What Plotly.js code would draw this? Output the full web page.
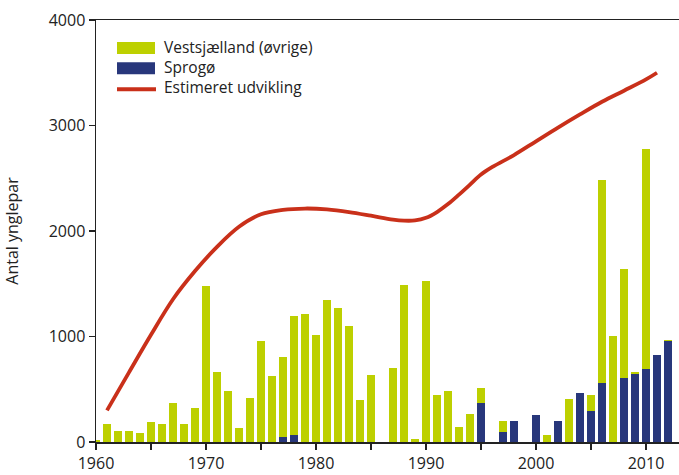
<!DOCTYPE html>
<html>
<head>
<meta charset="utf-8">
<script src="https://cdn.plot.ly/plotly-3.0.1.min.js"></script>
<style>html,body{margin:0;padding:0;background:#fff;}#chart{width:679px;height:475px;}</style>
</head>
<body>
<div id="chart"></div>
<script>
const years = [];
for (let y = 1960; y <= 2012; y++) years.push(y);

const vestsjaelland = [
  20, 174, 107, 107, 88, 192, 174, 372, 174, 325,
  1481, 666, 486, 135, 420, 960, 628, 758, 1128, 1216,
  1017, 1349, 1273, 1102, 401, 638, 0, 704, 1491, 31,
  1529, 448, 486, 145, 268, 142, 0, 104, 0, 0,
  0, 69, 0, 410, 0, 151, 1924, 1008, 1033, 19,
  2085, 0, 10
];

const sprogoe = [
  0, 0, 0, 0, 0, 0, 0, 0, 0, 0,
  0, 0, 0, 0, 0, 0, 0, 50, 69, 0,
  0, 0, 0, 0, 0, 0, 0, 0, 0, 0,
  0, 0, 0, 0, 0, 373, 0, 98, 202, 0,
  259, 0, 202, 0, 467, 297, 562, 0, 610, 647,
  695, 827, 960
];

const trendYears = [1961, 1963, 1965, 1967, 1969, 1971, 1973, 1975, 1977, 1979,
  1981, 1983, 1985, 1987, 1988, 1989, 1990, 1991, 1992, 1993, 1994, 1995, 1996,
  1998, 2000, 2002, 2004, 2006, 2008, 2010, 2011];
const trendValues = [300, 660, 1016, 1353, 1620, 1850, 2040, 2158, 2200, 2213,
  2205, 2180, 2145, 2108, 2098, 2100, 2125, 2180, 2255, 2345, 2440, 2535, 2605,
  2720, 2850, 2980, 3105, 3225, 3330, 3437, 3500];

const names = ['Vestsjælland (øvrige)', 'Sprogø', 'Estimeret udvikling'];
const colors = {vest: '#bdd000', sprogoe: '#28377b', trend: '#c9301a'};

const traces = [
  {type: 'bar', x: years, y: sprogoe, name: names[1], marker: {color: colors.sprogoe}},
  {type: 'bar', x: years, y: vestsjaelland, name: names[0], marker: {color: colors.vest}},
  {type: 'scatter', mode: 'lines', x: trendYears, y: trendValues, name: names[2],
   line: {color: colors.trend, width: 3.8, shape: 'spline', smoothing: 1}}
];

// Hand-built legend (paper placement) to match the reference layout
const W = 679, H = 475, mL = 96, mR = 0, mT = 20, mB = 33;
const pw = W - mL - mR, ph = H - mT - mB;
const px = x => (x - mL) / pw;
const py = y => 1 - (y - mT) / ph;
const legendFont = 15.5;
const rowGap = legendFont * 1.3;
const firstRow = 48;
const kinds = ['box', 'box', 'line'];
const swatchColors = [colors.vest, colors.sprogoe, colors.trend];
const shapes = [];
kinds.forEach((k, i) => {
  const cy = firstRow + i * rowGap;
  if (k === 'box') {
    shapes.push({type: 'rect', xref: 'paper', yref: 'paper',
      x0: px(117), x1: px(155), y0: py(cy + 6), y1: py(cy - 6),
      fillcolor: swatchColors[i], line: {width: 0}});
  } else {
    shapes.push({type: 'line', xref: 'paper', yref: 'paper',
      x0: px(117), x1: px(156), y0: py(cy + 1), y1: py(cy + 1),
      line: {color: swatchColors[i], width: 4}});
  }
});
const annotations = [{
  xref: 'paper', yref: 'paper', x: px(162), y: py(firstRow + rowGap - 1),
  xanchor: 'left', yanchor: 'middle', align: 'left', showarrow: false,
  text: names.join('<br>'), font: {size: legendFont, color: '#222'}
}];

const axisColor = '#222';
const layout = {
  width: W, height: H,
  margin: {l: mL, r: mR, t: mT, b: mB, pad: 0},
  paper_bgcolor: '#fff', plot_bgcolor: '#fff',
  barmode: 'stack', bargap: 0.36,
  font: {family: 'Open Sans, sans-serif', size: 15, color: '#222'},
  showlegend: false,
  shapes: shapes, annotations: annotations,
  xaxis: {range: [1960, 2013], showgrid: false, zeroline: false,
          showline: true, linecolor: axisColor, linewidth: 1.5, mirror: true,
          ticks: 'outside', ticklen: 6, tickwidth: 1.2, tickcolor: axisColor,
          dtick: 10, tick0: 1960,
          minor: {dtick: 5, tick0: 1960, ticks: 'outside', ticklen: 6, tickwidth: 1.2, tickcolor: axisColor},
          tickfont: {size: 16, color: '#222'}},
  yaxis: {range: [0, 4000], showgrid: false, zeroline: false,
          showline: true, linecolor: axisColor, linewidth: 1.5,
          ticks: 'outside', ticklen: 6, tickwidth: 1.2, tickcolor: axisColor,
          dtick: 1000, tickfont: {size: 16, color: '#222'},
          title: {text: 'Antal ynglepar', font: {size: 16, color: '#222'}, standoff: 26}}
};

Plotly.newPlot('chart', traces, layout, {displayModeBar: false, staticPlot: true});
</script>
</body>
</html>
